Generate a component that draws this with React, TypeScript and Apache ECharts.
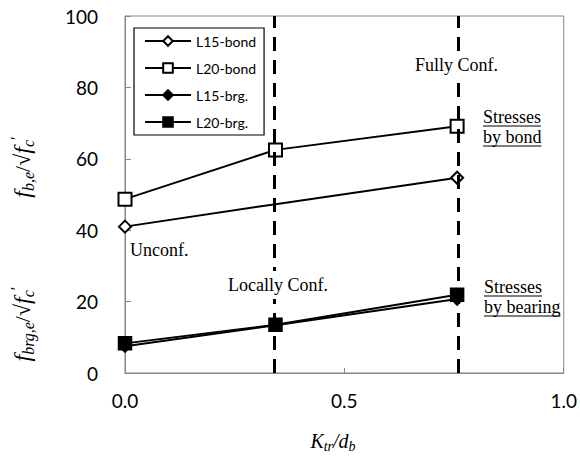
import React, { useEffect, useRef } from "react";
import * as echarts from "echarts";

const ktrRatio = [0, 0.343, 0.757];
const l15Bond = [41.0, 47.3, 54.7];
const l20Bond = [48.7, 62.5, 69.1];
const l15Brg = [7.5, 13.4, 20.7];
const l20Brg = [8.3, 13.5, 21.9];
const confinementLines = [0.343, 0.757];
const seriesNames = ["L15-bond", "L20-bond", "L15-brg.", "L20-brg."];
const seriesSymbols = ["emptyDiamond", "emptyRect", "diamond", "rect"];
const seriesSizes = [12, 13, 12, 13];
const seriesValues = [l15Bond, l20Bond, l15Brg, l20Brg];
const hiddenMarkers: Record<string, number[]> = { "L15-bond": [1] };

const SERIF = "'Liberation Serif', 'Times New Roman', serif";
const SANS = "Lato, 'Noto Sans', sans-serif";
const ANNOT_FONT = `18px ${SERIF}`;

function measure(text: string, font: string): number {
  const c = document.createElement("canvas").getContext("2d");
  if (!c) return text.length * 8;
  c.font = font;
  return c.measureText(text).width;
}

export default function App() {
  const ref = useRef<HTMLDivElement>(null);
  useEffect(() => {
    document.body.style.margin = "0";
    if (!ref.current) return;
    const chart = echarts.init(ref.current, undefined, { renderer: "svg" });
    const series: any[] = seriesNames.map((name, si) => ({
      name,
      type: "line",
      symbol: seriesSymbols[si],
      symbolSize: seriesSizes[si],
      clip: false,
      lineStyle: { color: "#000", width: 2 },
      itemStyle: { color: "#000", borderColor: "#000", borderWidth: 1.5 },
      data: ktrRatio.map((x, i) =>
        (hiddenMarkers[name] || []).includes(i)
          ? { value: [x, seriesValues[si][i]], symbol: "none" }
          : [x, seriesValues[si][i]]
      ),
      z: 3 + si,
    }));
    series.push({
      name: "confinement",
      type: "line",
      data: [],
      markLine: {
        silent: true,
        symbol: ["none", "none"],
        label: { show: false },
        lineStyle: { color: "#000", width: 3, type: [14, 9] },
        data: confinementLines.map((v) => ({ xAxis: v })),
        z: 10,
      },
    });

    const rich = {
      i: { fontFamily: SERIF, fontStyle: "italic", fontSize: 24, lineHeight: 28, verticalAlign: "middle" },
      n: { fontFamily: SERIF, fontSize: 22, lineHeight: 28, verticalAlign: "middle" },
      s: { fontFamily: SERIF, fontStyle: "italic", fontSize: 16, lineHeight: 17, verticalAlign: "bottom" },
      p: { fontFamily: SERIF, fontSize: 17, lineHeight: 15, verticalAlign: "top" },
    };

    const annotation = (text: string, x: number, y: number, bg = false) => ({
      type: "text",
      z: 100,
      style: {
        text,
        x,
        y,
        font: ANNOT_FONT,
        fill: "#000",
        align: "left",
        verticalAlign: "middle",
        backgroundColor: bg ? "#fff" : undefined,
        padding: bg ? [5, 0, 5, 0] : undefined,
      },
    });
    const underlined = (text: string, x: number, y: number) => [
      annotation(text, x, y),
      {
        type: "line",
        z: 100,
        shape: { x1: x, y1: y + 9, x2: x + measure(text, ANNOT_FONT), y2: y + 9 },
        style: { stroke: "#000", lineWidth: 1 },
      },
    ];

    chart.setOption({
      animation: false,
      backgroundColor: "#fff",
      grid: {
        left: 125,
        right: 15,
        top: 16,
        bottom: 83,
        show: true,
        borderColor: "#868686",
        borderWidth: 1,
      },
      legend: {
        data: seriesNames,
        orient: "vertical",
        left: 134,
        top: 28,
        itemWidth: 46,
        itemHeight: 12,
        itemGap: 13,
        padding: [6, 8, 6, 10],
        borderColor: "#000",
        borderWidth: 1.2,
        backgroundColor: "#fff",
        textStyle: { fontFamily: SANS, fontSize: 14, color: "#000" },
        selectedMode: false,
      },
      xAxis: {
        type: "value",
        min: 0,
        max: 1,
        interval: 0.5,
        axisLine: { lineStyle: { color: "#868686", width: 1 } },
        axisTick: { inside: true, length: 5, lineStyle: { color: "#868686" } },
        axisLabel: {
          formatter: (v: number) => v.toFixed(1),
          margin: 18,
          fontFamily: SANS,
          fontSize: 19,
          color: "#000",
        },
        splitLine: { show: false },
      },
      yAxis: {
        type: "value",
        min: 0,
        max: 100,
        interval: 20,
        axisLine: { show: true, lineStyle: { color: "#868686", width: 1 } },
        axisTick: { show: true, inside: true, length: 6, lineStyle: { color: "#868686" } },
        axisLabel: { margin: 27, fontFamily: SANS, fontSize: 19, color: "#000" },
        splitLine: { show: false },
      },
      series,
      graphic: [
        {
          type: "text",
          x: 22,
          y: 167,
          rotation: Math.PI / 2,
          z: 100,
          style: {
            text: "{i|f}{s|b,e}{n|/√}{i|f}{s|c}{p|′}",
            rich,
            align: "center",
            verticalAlign: "middle",
          },
        },
        {
          type: "text",
          x: 22,
          y: 324,
          rotation: Math.PI / 2,
          z: 100,
          style: {
            text: "{i|f}{s|brg,e}{n|/√}{i|f}{s|c}{p|′}",
            rich,
            align: "center",
            verticalAlign: "middle",
          },
        },
        {
          type: "text",
          x: 333,
          y: 441,
          z: 100,
          style: {
            text: "{i|K}{s|tr}{n|/}{i|d}{s|b}",
            rich: {
              i: { fontFamily: SERIF, fontStyle: "italic", fontSize: 20, lineHeight: 24, verticalAlign: "middle" },
              n: { fontFamily: SERIF, fontStyle: "italic", fontSize: 20, lineHeight: 24, verticalAlign: "middle" },
              s: { fontFamily: SERIF, fontStyle: "italic", fontSize: 14, lineHeight: 14, verticalAlign: "bottom" },
            },
            align: "center",
            verticalAlign: "middle",
          },
        },
        annotation("Fully Conf.", 415, 65, true),
        annotation("Locally Conf.", 228, 285, true),
        annotation("Unconf.", 130, 250),
        ...underlined("Stresses", 483, 117),
        ...underlined("by bond", 483, 137),
        ...underlined("Stresses", 484, 287),
        ...underlined("by bearing", 484, 307),
      ],
    });
    return () => chart.dispose();
  }, []);
  return <div ref={ref} style={{ width: 580, height: 456 }} />;
}
